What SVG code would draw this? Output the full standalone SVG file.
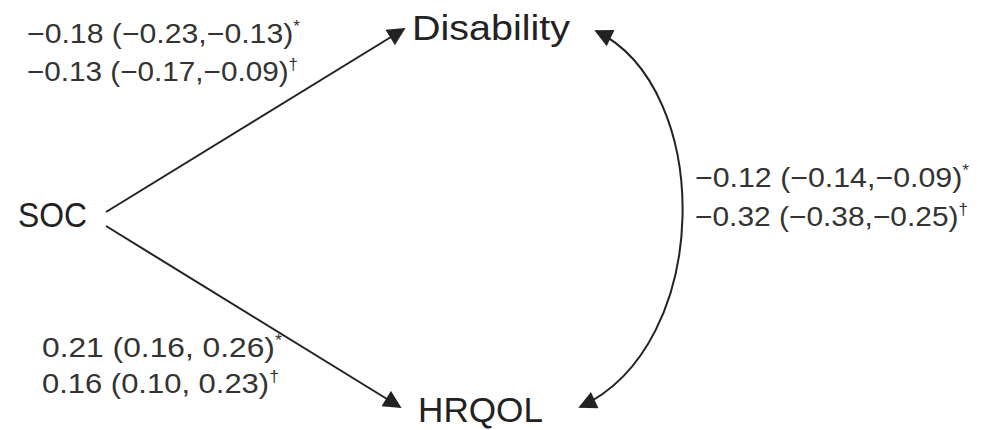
<svg xmlns="http://www.w3.org/2000/svg" width="994" height="430" viewBox="0 0 994 430">
<style>
.node{font-family:"Liberation Sans",Arial,sans-serif;font-size:35px;fill:#222}
.lab{font-family:"Liberation Sans",Arial,sans-serif;font-size:28px;fill:#333}
.sup{font-size:16px}
.conn{stroke:#222;stroke-width:2;fill:none}
</style>
<defs>
<marker id="ahl" viewBox="0 0 10 10" refX="9" refY="5" markerWidth="20" markerHeight="18" markerUnits="userSpaceOnUse" orient="auto-start-reverse">
<path d="M0,0 L10,5 L0,10 z" fill="#222"/>
</marker>
</defs>
<rect width="994" height="430" fill="#fff"/>
<g id="connectors">
<line class="conn" x1="106" y1="212" x2="404" y2="29" marker-end="url(#ahl)"/>
<line class="conn" x1="106" y1="226" x2="400" y2="407" marker-end="url(#ahl)"/>
<path class="conn" d="M596 31 C714 88 714 345 580 407" marker-start="url(#ahl)" marker-end="url(#ahl)"/>
</g>
<g id="node-disability"><text class="node" x="412" y="40" textLength="158" lengthAdjust="spacingAndGlyphs">Disability</text></g>
<g id="node-soc"><text class="node" x="18" y="227" textLength="69" lengthAdjust="spacingAndGlyphs">SOC</text></g>
<g id="node-hrqol"><text class="node" x="418" y="422" textLength="125" lengthAdjust="spacingAndGlyphs">HRQOL</text></g>
<g id="labels">
<text class="lab" x="27" y="43" textLength="273" lengthAdjust="spacingAndGlyphs">−0.18 (−0.23,−0.13)<tspan class="sup" dy="-11">*</tspan></text>
<text class="lab" x="27" y="81" textLength="271" lengthAdjust="spacingAndGlyphs">−0.13 (−0.17,−0.09)<tspan class="sup" dy="-11">†</tspan></text>
<text class="lab" x="695" y="187" textLength="274" lengthAdjust="spacingAndGlyphs">−0.12 (−0.14,−0.09)<tspan class="sup" dy="-11">*</tspan></text>
<text class="lab" x="695" y="226" textLength="273" lengthAdjust="spacingAndGlyphs">−0.32 (−0.38,−0.25)<tspan class="sup" dy="-11">†</tspan></text>
<text class="lab" x="42" y="357" textLength="240" lengthAdjust="spacingAndGlyphs">0.21 (0.16, 0.26)<tspan class="sup" dy="-11">*</tspan></text>
<text class="lab" x="42" y="393" textLength="237" lengthAdjust="spacingAndGlyphs">0.16 (0.10, 0.23)<tspan class="sup" dy="-11">†</tspan></text>
</g>
</svg>
